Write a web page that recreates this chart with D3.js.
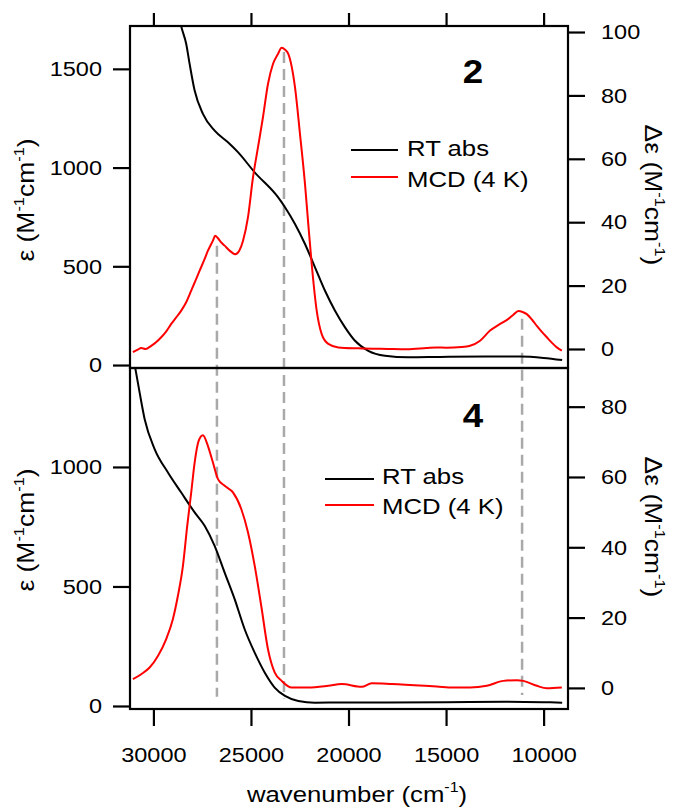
<!DOCTYPE html>
<html>
<head>
<meta charset="utf-8">
<script src="https://cdn.jsdelivr.net/npm/d3@7"></script>
<style>
  body { margin: 0; background: #fff; }
  svg text { font-family: "Liberation Sans", Arial, sans-serif; fill: #000; }
</style>
</head>
<body>
<div id="chart"></div>
<script>
// wavenumber ticks (cm-1)
const xTicks = [30000, 25000, 20000, 15000, 10000];

// compound 2: RT absorption (eps, left axis)
const abs2Wn = [28700, 28538, 28318, 28144, 27887, 27462, 26862, 26179, 25667, 24810, 23615, 23256, 22744, 22231,
  21718, 21205, 20692, 20179, 19667, 18985, 18128, 16933, 15300, 13000, 11200, 10000, 9050];
const abs2Eps = [1760, 1702, 1626, 1525, 1390, 1272, 1187, 1128, 1078, 976, 850, 799, 714, 613,
  495, 376, 275, 191, 123, 72, 47, 39, 41, 43, 43, 36, 25];

// compound 2: MCD 4 K (delta eps, right axis)
const mcd2Wn = [31050, 30800, 30626, 30400, 30113, 29850, 29600, 29350, 29087, 28850, 28574, 28300, 28062, 27850,
  27631, 27400, 27205, 26950, 26831, 26700, 26550, 26349, 26050, 25805, 25600, 25410, 25154, 24897, 24641, 24385,
  24128, 23872, 23615, 23426, 23250, 23087, 22744, 22487, 22231, 22062, 21887, 21631, 21374, 21036, 20523, 19500,
  18000, 17000, 16000, 15500, 15000, 14200, 13769, 13256, 12744, 12231, 11805, 11550, 11292, 11050, 10862, 10600,
  10349, 10100, 9836, 9580, 9323, 9067];
const mcd2De = [-1.0, -0.2, 0.3, 0.0, 1.0, 2.2, 3.7, 5.5, 7.9, 9.8, 12.1, 15.0, 18.4, 21.5,
  24.7, 28.0, 31.0, 34.2, 35.7, 35.0, 33.8, 32.6, 30.8, 29.9, 31.0, 34.1, 41.5, 54.1, 63.6, 73.1,
  83.6, 89.9, 93.1, 95.0, 94.4, 93.1, 82.6, 67.8, 52.1, 39.4, 26.8, 12.1, 4.7, 1.6, 0.5, 0.2,
  0.0, -0.1, 0.3, 0.5, 0.4, 0.6, 1.0, 2.6, 5.8, 7.9, 9.5, 10.8, 12.0, 11.6, 11.0, 9.3,
  7.3, 5.5, 3.7, 2.0, 0.5, -0.5];

// compound 4: RT absorption
const abs4Wn = [31050, 30933, 30708, 30451, 29938, 29256, 28574, 27887, 27374, 26862, 26349, 25836, 25323, 24810,
  24297, 23785, 23256, 22574, 21718, 20000, 18000, 15000, 12000, 10000, 9050];
const abs4Eps = [1470, 1415, 1312, 1201, 1075, 977, 893, 810, 754, 670, 558, 447, 321, 223,
  140, 77, 42, 21, 14, 15, 15, 16, 18, 16, 14];

// compound 4: MCD 4 K
const mcd4Wn = [31051, 30626, 30195, 29769, 29344, 29000, 28744, 28487, 28267, 28062, 27887, 27682, 27462, 27205,
  26949, 26692, 26349, 25923, 25497, 25154, 24810, 24472, 24128, 23785, 23426, 22913, 22062, 21036, 20349, 19323,
  18810, 17785, 16077, 15477, 14626, 13769, 12913, 12059, 11374, 11036, 10349, 9836, 9067];
const mcd4De = [2.5, 3.9, 5.8, 9.1, 13.9, 19.6, 26.2, 34.7, 46.1, 55.6, 64.1, 70.3, 71.9, 68.8,
  64.1, 59.4, 57.5, 55.6, 50.9, 44.3, 34.8, 23.3, 11.0, 4.4, 2.0, 0.1, 0.1, 0.6, 1.1, 0.3,
  1.3, 1.1, 0.6, 0.4, 0.1, 0.1, 0.6, 2.0, 2.2, 2.0, 0.6, -0.1, 0.1];

// dashed guide lines: position, start (delta eps in panel 2), end (delta eps in panel 4)
const guideWn = [26744, 23308, 11103];
const guideTop = [32.6, 93.7, 9.5];
const guideBottom = [-2.5, -3.0, -2.0];

const leftTicks2 = [0, 500, 1000, 1500];
const rightTicks2 = [0, 20, 40, 60, 80, 100];
const leftTicks4 = [0, 500, 1000];
const rightTicks4 = [0, 20, 40, 60, 80];

const width = 677, height = 811;
const left = 130, right = 568;
const SX = 1.12; // the figure font runs wider than Arial

const svg = d3.select('#chart').append('svg')
  .attr('width', width)
  .attr('height', height);

svg.append('rect').attr('width', width).attr('height', height).attr('fill', '#fff');

const x = d3.scaleLinear().domain([31200, 8750]).range([left, right]);

const panels = [
  {
    id: 'p2', label: '2', top: 26, bottom: 368,
    yL: d3.scaleLinear().domain([-15, 1717]).range([368, 26]),
    yR: d3.scaleLinear().domain([-6, 101.9]).range([368, 26]),
    lt: leftTicks2, rt: rightTicks2,
    abs: abs2Wn.map((w, i) => [w, abs2Eps[i]]),
    mcd: mcd2Wn.map((w, i) => [w, mcd2De[i]]),
    lbl: [473, 83], leg: [351, 398, 407, 150, 177, 156, 187],
    epsY: 200, depsY: 195
  },
  {
    id: 'p4', label: '4', top: 368, bottom: 709,
    yL: d3.scaleLinear().domain([-12.6, 1414]).range([709, 368]),
    yR: d3.scaleLinear().domain([-6, 91]).range([709, 368]),
    lt: leftTicks4, rt: rightTicks4,
    abs: abs4Wn.map((w, i) => [w, abs4Eps[i]]),
    mcd: mcd4Wn.map((w, i) => [w, mcd4De[i]]),
    lbl: [473, 427], leg: [325, 374, 382, 479, 505, 484, 514],
    epsY: 530, depsY: 527
  }
];

// text with optional superscript parts, stretched horizontally
function addText(parent, px, py, parts, size, opts = {}) {
  const rot = opts.rotate || 0;
  const t = parent.append('text')
    .attr('transform', `translate(${px},${py}) rotate(${rot}) scale(${opts.sx || SX},1)`)
    .attr('font-size', size)
    .attr('font-weight', opts.bold ? 'bold' : null)
    .attr('text-anchor', opts.anchor || 'start');
  let shift = 0;
  parts.forEach(p => {
    if (typeof p === 'string') {
      t.append('tspan').attr('dy', shift ? shift : null).text(p);
      shift = 0;
    } else {
      t.append('tspan').attr('dy', -0.42 * size).attr('font-size', size * 0.62).text(p.sup);
      shift = 0.42 * size;
    }
  });
  return t;
}

function styleAxis(g) {
  g.select('.domain').remove();
  g.selectAll('.tick line').attr('stroke', '#000').attr('stroke-width', 2.2);
  g.selectAll('.tick text').each(function () {
    const el = d3.select(this);
    const tx = +el.attr('x') || 0;
    el.attr('x', null)
      .attr('transform', `translate(${tx},0) scale(${SX},1)`)
      .attr('font-size', 21)
      .attr('font-family', '"Liberation Sans", Arial, sans-serif')
      .attr('fill', '#000');
  });
}

const line = (xs, ys) => d3.line()
  .x(d => xs(d[0]))
  .y(d => ys(d[1]))
  .curve(d3.curveMonotoneX);

// dashed guides behind the curves
const p2 = panels[0], p4 = panels[1];
svg.append('g').selectAll('line')
  .data(guideWn)
  .join('line')
  .attr('x1', d => x(d))
  .attr('x2', d => x(d))
  .attr('y1', (d, i) => p2.yR(guideTop[i]))
  .attr('y2', (d, i) => p4.yR(guideBottom[i]))
  .attr('stroke', '#a9a9a9')
  .attr('stroke-width', 2.5)
  .attr('stroke-dasharray', '11,6');

panels.forEach(p => {
  const clipId = 'clip-' + p.id;
  svg.append('clipPath').attr('id', clipId)
    .append('rect')
    .attr('x', left).attr('y', p.top)
    .attr('width', right - left).attr('height', p.bottom - p.top);

  const g = svg.append('g').attr('clip-path', `url(#${clipId})`);

  g.append('path')
    .datum(p.abs)
    .attr('fill', 'none')
    .attr('stroke', '#000')
    .attr('stroke-width', 2)
    .attr('d', line(x, p.yL));

  g.append('path')
    .datum(p.mcd)
    .attr('fill', 'none')
    .attr('stroke', '#ff0000')
    .attr('stroke-width', 2)
    .attr('d', line(x, p.yR));

  // frame
  svg.append('rect')
    .attr('x', left).attr('y', p.top)
    .attr('width', right - left).attr('height', p.bottom - p.top)
    .attr('fill', 'none')
    .attr('stroke', '#000')
    .attr('stroke-width', 2.2);

  // left axis
  svg.append('g')
    .attr('transform', `translate(${left},0)`)
    .call(d3.axisLeft(p.yL).tickValues(p.lt).tickSize(17).tickPadding(11).tickSizeOuter(0).tickFormat(d3.format('d')))
    .call(styleAxis);

  // right axis
  svg.append('g')
    .attr('transform', `translate(${right},0)`)
    .call(d3.axisRight(p.yR).tickValues(p.rt).tickSize(17).tickPadding(16).tickSizeOuter(0).tickFormat(d3.format('d')))
    .call(styleAxis);

  // panel number
  addText(svg, p.lbl[0], p.lbl[1], [p.label], 34, { bold: true, anchor: 'middle', sx: 1.08 });

  // legend
  const [lx1, lx2, tx, ly1, ly2, ty1, ty2] = p.leg;
  svg.append('line').attr('x1', lx1).attr('x2', lx2).attr('y1', ly1).attr('y2', ly1)
    .attr('stroke', '#000').attr('stroke-width', 2);
  svg.append('line').attr('x1', lx1).attr('x2', lx2).attr('y1', ly2).attr('y2', ly2)
    .attr('stroke', '#ff0000').attr('stroke-width', 2);
  addText(svg, tx, ty1, ['RT abs'], 23);
  addText(svg, tx, ty2, ['MCD (4 K)'], 23);

  // axis titles
  addText(svg, 34, p.epsY, ['\u03b5 (M', { sup: '-1' }, 'cm', { sup: '-1' }, ')'], 23,
    { rotate: -90, anchor: 'middle', sx: 1.15 });
  addText(svg, 645, p.depsY, ['\u0394\u03b5 (M', { sup: '-1' }, 'cm', { sup: '-1' }, ')'], 23,
    { rotate: 90, anchor: 'middle', sx: 1.15 });
});

// top ticks (no labels)
svg.append('g')
  .attr('transform', `translate(0,${p2.top})`)
  .call(d3.axisTop(x).tickValues(xTicks).tickSize(13).tickFormat('').tickSizeOuter(0))
  .call(styleAxis);

// bottom axis
svg.append('g')
  .attr('transform', `translate(0,${p4.bottom})`)
  .call(d3.axisBottom(x).tickValues(xTicks).tickSize(17).tickPadding(21).tickFormat(d3.format('d')).tickSizeOuter(0))
  .call(styleAxis);

addText(svg, 357, 802, ['wavenumber (cm', { sup: '-1' }, ')'], 23, { anchor: 'middle' });
</script>
</body>
</html>
